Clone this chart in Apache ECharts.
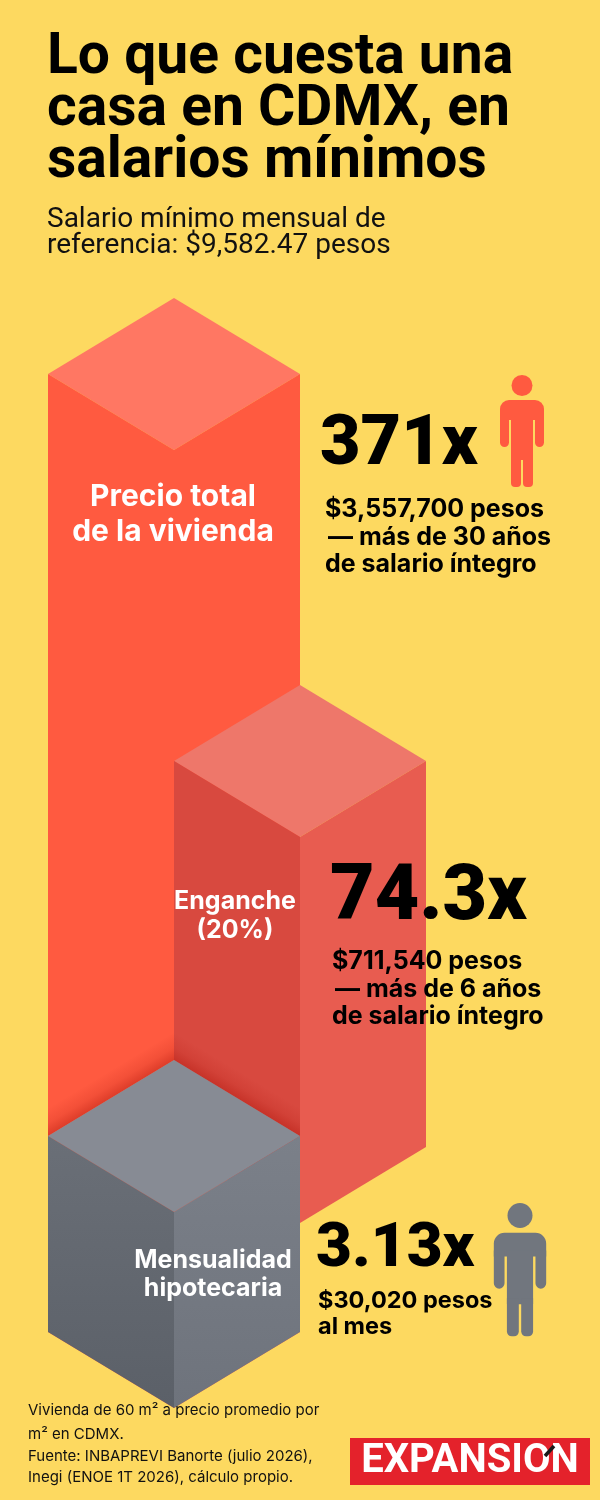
<!DOCTYPE html>
<html><head><meta charset="utf-8">
<script src="https://cdn.jsdelivr.net/npm/echarts@6/dist/echarts.min.js"></script>
<style>html,body{margin:0;padding:0;background:#FDD960}#c{width:600px;height:1500px}</style>
</head><body><div id="c"></div>
<script>
// ---- data ----
const categories = [['Precio total', 'de la vivienda'], ['Enganche', '(20%)'], ['Mensualidad', 'hipotecaria']];
const multiples = [371, 74.3, 3.13];                 // veces el salario mínimo
const detailLines = [
  ['$3,557,700 pesos', '— más de 30 años', 'de salario íntegro'],
  ['$711,540 pesos', '— más de 6 años', 'de salario íntegro'],
  ['$30,020 pesos', 'al mes']
];
const boxColumn = [0, 1, 0];            // isometric column of each block
const boxBase = [0, 1.85, 0];           // block bottom (relative height units)
const boxTop = [9.58, 5.71, 1.96];      // block top (relative height units)
const footnote = [
  'Vivienda de 60 m² a precio promedio por',
  'm² en CDMX.',
  'Fuente: INBAPREVI Banorte (julio 2026),',
  'Inegi (ENOE 1T 2026), cálculo propio.'
];

// ---- styles ----
const BG = '#FDD960';
const faces = [
  { top: '#FF7763', left: '#FF5A40', right: '#FF5A40' },
  { top: '#EE776A', left: '#D8493F', right: '#E85C50' },
  { top: '#878B94', left: ['#6A6F77', '#5B6068'], right: ['#7B8089', '#6E737C'], shadow: true }
];
const FONT = 'Roboto, "Noto Sans", sans-serif';
const FONT2 = 'Inter, Roboto, sans-serif';

function grad(c) {
  if (!Array.isArray(c)) return c;
  return new echarts.graphic.LinearGradient(0, 0, 0, 1, [{ offset: 0, color: c[0] }, { offset: 1, color: c[1] }]);
}

function band(p, q, nx, ny, d) {
  // soft shadow band above edge p-q (vertical sides), fading along normal (nx, ny)
  const dv = d / Math.abs(ny);
  const mx = (p[0] + q[0]) / 2, my = (p[1] + q[1]) / 2;
  return {
    type: 'polygon',
    shape: { points: [[p[0], p[1]], [q[0], q[1]], [q[0], q[1] - dv], [p[0], p[1] - dv]] },
    style: {
      fill: new echarts.graphic.LinearGradient(mx, my, mx + nx * d, my + ny * d, [
        { offset: 0, color: 'rgba(175,20,10,0.42)' },
        { offset: 0.45, color: 'rgba(175,20,10,0.15)' },
        { offset: 1, color: 'rgba(175,20,10,0)' }
      ], true)
    }
  };
}

function renderItem(params, api) {
  const i = params.dataIndex;
  const col = api.value(0), base = api.value(1), top = api.value(2);
  const f0 = api.coord([col + 1, base]);
  const f1 = api.coord([col + 1, top]);
  const hw = api.size([1, 0])[0];
  const hh = hw * 0.603;
  const st = faces[i];
  const L = [f1[0] - hw, f1[1] - hh], T = [f1[0], f1[1] - 2 * hh], Rr = [f1[0] + hw, f1[1] - hh];
  const children = [];
  if (st.shadow) {
    const len = Math.hypot(hw, hh);
    children.push(band(L, T, -hh / len, -hw / len, 24));
    children.push(band(T, Rr, hh / len, -hw / len, 24));
  }
  children.push({
    type: 'polygon',
    shape: { points: [[f1[0], f1[1]], L, T, Rr] },
    style: { fill: st.top }
  });
  children.push({
    type: 'polygon',
    shape: { points: [L, [f1[0], f1[1]], [f0[0], f0[1]], [f0[0] - hw, f0[1] - hh]] },
    style: { fill: grad(st.left) }
  });
  children.push({
    type: 'polygon',
    shape: { points: [[f1[0], f1[1]], Rr, [f0[0] + hw, f0[1] - hh], [f0[0], f0[1]]] },
    style: { fill: grad(st.right) }
  });
  return { type: 'group', children: children };
}

function txt(text, x, y, size, weight, color, align, font) {
  return {
    type: 'text', z: 10,
    style: { text: text, x: x, y: y, font: weight + ' ' + size + 'px ' + (font || FONT), fill: color, align: align || 'left', verticalAlign: 'middle' }
  };
}

function person(cx, top, s, color) {
  const R = (x1, y1, x2, y2, r) => ({
    type: 'rect',
    shape: { x: cx + x1 * s, y: top + y1 * s, width: (x2 - x1) * s, height: (y2 - y1) * s, r: r.map(v => v * s) },
    style: { fill: color }
  });
  return {
    type: 'group', z: 10, children: [
      { type: 'circle', shape: { cx: cx, cy: top + 10.5 * s, r: 10.5 * s }, style: { fill: color } },
      R(-22, 25, 22, 45, [9, 9, 0, 0]),
      R(-22, 40, -13, 72, [0, 0, 4.5, 4.5]),
      R(13, 40, 22, 72, [0, 0, 4.5, 4.5]),
      R(-11, 40, 11, 85, [0, 0, 0, 0]),
      R(-11, 80, -1, 112, [0, 0, 4, 4]),
      R(1, 80, 11, 112, [0, 0, 4, 4])
    ]
  };
}

const fmtX = v => String(v) + 'x';

const graphics = [
  txt('Lo que cuesta una', 47, 59, 57, 'bold', '#000'),
  txt('casa en CDMX, en', 47, 111, 57, 'bold', '#000'),
  txt('salarios mínimos', 47, 163, 57, 'bold', '#000'),
  txt('Salario mínimo mensual de', 47, 220, 28, 'normal', '#111'),
  txt('referencia: $9,582.47 pesos', 47, 246, 28, 'normal', '#111'),

  // block labels
  txt(categories[0][0], 173, 497, 30, 'bold', '#fff', 'center', FONT2),
  txt(categories[0][1], 173, 532, 30, 'bold', '#fff', 'center', FONT2),
  txt(categories[1][0], 235, 901, 25, 'bold', '#fff', 'center', FONT2),
  txt(categories[1][1], 235, 930, 25, 'bold', '#fff', 'center', FONT2),
  txt(categories[2][0], 213, 1260, 25, 'bold', '#fff', 'center', FONT2),
  txt(categories[2][1], 213, 1288, 25, 'bold', '#fff', 'center', FONT2),

  // multiples
  txt(fmtX(multiples[0]), 320, 446, 70, '900', '#000'),
  txt(detailLines[0][0], 325, 509, 25, 'bold', '#000', 'left', FONT2),
  txt(detailLines[0][1], 328, 537, 25, 'bold', '#000', 'left', FONT2),
  txt(detailLines[0][2], 325, 564, 25, 'bold', '#000', 'left', FONT2),

  txt(fmtX(multiples[1]), 330, 900, 77, '900', '#000'),
  txt(detailLines[1][0], 332, 961, 25, 'bold', '#000', 'left', FONT2),
  txt(detailLines[1][1], 335, 989, 25, 'bold', '#000', 'left', FONT2),
  txt(detailLines[1][2], 332, 1016, 25, 'bold', '#000', 'left', FONT2),

  txt(fmtX(multiples[2]), 316, 1250, 62, '900', '#000'),
  txt(detailLines[2][0], 318, 1301, 23.5, 'bold', '#000', 'left', FONT2),
  txt(detailLines[2][1], 318, 1327, 23.5, 'bold', '#000', 'left', FONT2),

  person(522, 375, 1, '#FF5A40'),
  person(520, 1203, 1.19, '#71767E'),

  // footnote
  txt(footnote[0], 28, 1410, 15, 'normal', '#111', 'left', FONT2),
  txt(footnote[1], 28, 1434, 15, 'normal', '#111', 'left', FONT2),
  txt(footnote[2], 28, 1456, 15, 'normal', '#111', 'left', FONT2),
  txt(footnote[3], 28, 1477, 15, 'normal', '#111', 'left', FONT2),

  // logo
  { type: 'rect', z: 10, shape: { x: 350, y: 1438, width: 240, height: 47 }, style: { fill: '#E4222B' } },
  { type: 'text', z: 11, style: { text: 'EXPANSION', x: 470, y: 1462, font: 'bold 40px "Liberation Sans Narrow", "Roboto", sans-serif', fill: '#fff', align: 'center', verticalAlign: 'middle' } },
  { type: 'line', z: 12, shape: { x1: 545, y1: 1456, x2: 554, y2: 1446 }, style: { stroke: '#1a1a1a', lineWidth: 3.5 } }
];

const chart = echarts.init(document.getElementById('c'), null, { renderer: 'canvas' });
chart.setOption({
  backgroundColor: BG,
  animation: false,
  grid: { left: 48, top: 308, width: 378, height: 1100 },
  xAxis: { type: 'value', min: 0, max: 3, show: false },
  yAxis: { type: 'value', min: 0, max: 11, show: false },
  series: [{
    type: 'custom',
    clip: false,
    renderItem: renderItem,
    encode: { x: 0, y: [1, 2] },
    data: boxColumn.map((c, i) => [c, boxBase[i], boxTop[i], multiples[i]])
  }],
  graphic: graphics
});
</script></body></html>
